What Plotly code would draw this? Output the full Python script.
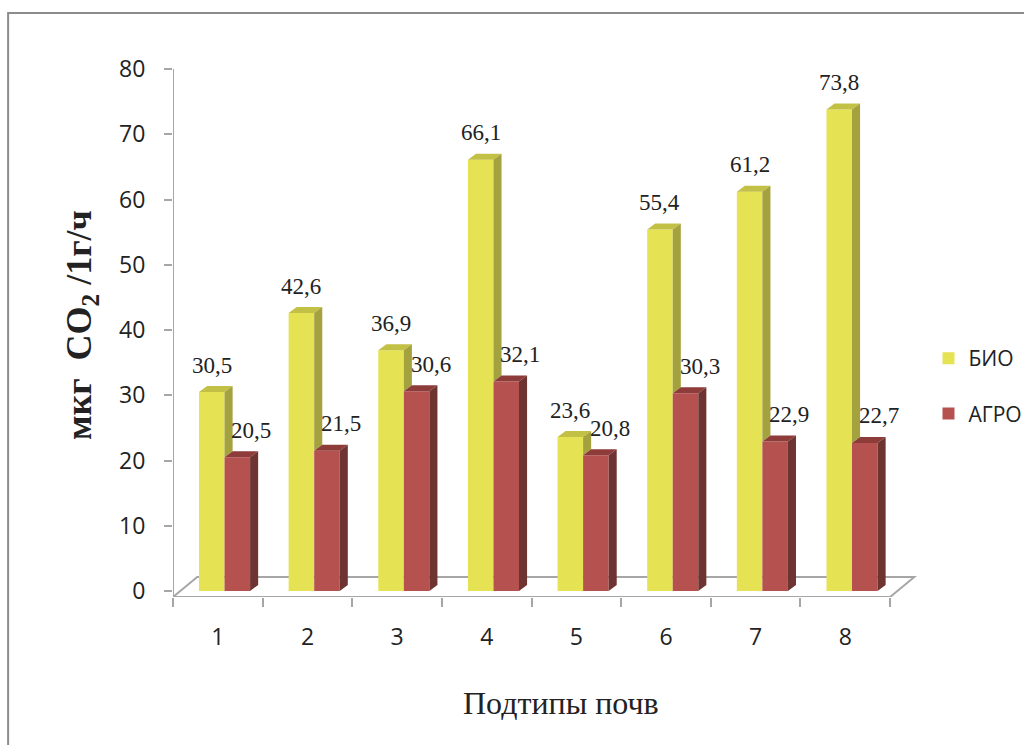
import plotly.graph_objects as go

# ---------------- data ----------------
categories = ["1", "2", "3", "4", "5", "6", "7", "8"]
bio = [30.5, 42.6, 36.9, 66.1, 23.6, 55.4, 61.2, 73.8]
agro = [20.5, 21.5, 30.6, 32.1, 20.8, 30.3, 22.9, 22.7]
series_names = ["БИО", "АГРО"]
y_ticks = [0, 10, 20, 30, 40, 50, 60, 70, 80]
x_title = "Подтипы почв"
y_title = "мкг&nbsp;&nbsp;CO<sub>2</sub> /1г/ч"

# ---------------- styling / geometry ----------------
W, H = 1024, 745
PL, PR, PT, PB = 173, 917.5, 56, 597          # plot area in pixels
X_RANGE = [0.5, 8.8]
Y_RANGE = [-0.92, 82]
BAR_W = 0.285
OFF_BIO, OFF_AGRO = -0.21, 0.075
DX, DY = 0.09, 0.92          # 3-D depth of bars (axis units)
FLOOR_DX, FLOOR_BACK = 0.27, 2.15

BIO_FRONT, BIO_SIDE, BIO_TOP = "#E5E253", "#A4A13F", "#C3C046"
AGRO_FRONT, AGRO_SIDE, AGRO_TOP = "#B55250", "#6E3432", "#8E3C3A"
AXIS_COL = "#A6A6A6"
TXT = "#222222"


def paper_x(px):
    return (px - PL) / (PR - PL)


def paper_y(py):
    return (PB - py) / (PB - PT)


xs = list(range(1, len(categories) + 1))


def top_faces(vals, off):
    X, Y = [], []
    for x, v in zip(xs, vals):
        x0 = x + off
        x1 = x0 + BAR_W
        X += [x0, x1, x1 + DX, x0 + DX, x0, None]
        Y += [v, v, v + DY, v + DY, v, None]
    return X, Y


def side_faces(vals, off, bases):
    X, Y = [], []
    for x, v, b in zip(xs, vals, bases):
        if b >= v:
            continue
        x1 = x + off + BAR_W
        X += [x1, x1 + DX, x1 + DX, x1, x1, None]
        Y += [b, b + DY, v + DY, v, b, None]
    return X, Y


fig = go.Figure()

fig.add_trace(go.Bar(x=xs, y=bio, width=BAR_W, offset=OFF_BIO, name=series_names[0],
                     marker=dict(color=BIO_FRONT, line=dict(width=0)),
                     legendgroup="bio"))
fig.add_trace(go.Bar(x=xs, y=agro, width=BAR_W, offset=OFF_AGRO, name=series_names[1],
                     marker=dict(color=AGRO_FRONT, line=dict(width=0)),
                     legendgroup="agro"))


def poly(X, Y, color):
    fig.add_trace(go.Scatter(x=X, y=Y, mode="lines", fill="toself", fillcolor=color,
                             line=dict(width=0, color=color), hoverinfo="skip",
                             showlegend=False))


poly(*top_faces(bio, OFF_BIO), BIO_TOP)
poly(*side_faces(bio, OFF_BIO, [min(a, b) for a, b in zip(agro, bio)]), BIO_SIDE)
poly(*top_faces(agro, OFF_AGRO), AGRO_TOP)
poly(*side_faces(agro, OFF_AGRO, [0] * len(agro)), AGRO_SIDE)

# value labels
annotations = []
for x, v in zip(xs, bio):
    annotations.append(dict(x=x + OFF_BIO + BAR_W / 2, y=v, yshift=27, xref="x", yref="y",
                            xanchor="center", yanchor="middle",
                            text=f"{v:.1f}".replace(".", ","), showarrow=False,
                            font=dict(family="Liberation Serif", size=23, color=TXT)))
for x, v in zip(xs, agro):
    annotations.append(dict(x=x + OFF_AGRO + BAR_W / 2, y=v, yshift=27, xshift=14,
                            xref="x", yref="y", xanchor="center", yanchor="middle",
                            text=f"{v:.1f}".replace(".", ","), showarrow=False,
                            font=dict(family="Liberation Serif", size=23, color=TXT)))

# axis titles
annotations.append(dict(x=paper_x(561), y=paper_y(703), xref="paper", yref="paper",
                        xanchor="center", yanchor="middle",
                        text=x_title, showarrow=False,
                        font=dict(family="Liberation Serif", size=32, color=TXT)))
annotations.append(dict(x=paper_x(81), y=paper_y(325), xref="paper", yref="paper",
                        xanchor="center", yanchor="middle",
                        text=f"<b>{y_title}</b>", showarrow=False, textangle=-90,
                        font=dict(family="Liberation Serif", size=36, color=TXT)))

shapes = [
    # outer frame
    dict(type="rect", xref="paper", yref="paper", x0=paper_x(8), x1=paper_x(W + 20),
         y0=paper_y(H + 20), y1=paper_y(13), line=dict(color="#8C8C8C", width=2),
         layer="below"),
    # y axis line
    dict(type="line", xref="x", yref="y", x0=X_RANGE[0], x1=X_RANGE[0],
         y0=Y_RANGE[0], y1=y_ticks[-1], line=dict(color=AXIS_COL, width=2), layer="below"),
    # floor
    dict(type="path", xref="x", yref="y",
         path=(f"M{0.5},{Y_RANGE[0]} L{len(xs) + 0.5},{Y_RANGE[0]} "
               f"L{len(xs) + 0.5 + FLOOR_DX},{FLOOR_BACK} L{0.5 + FLOOR_DX},{FLOOR_BACK} Z"),
         line=dict(color=AXIS_COL, width=2), layer="below"),
]

fig.update_layout(
    width=W, height=H,
    margin=dict(l=PL, r=W - PR, t=PT, b=H - PB, pad=0, autoexpand=False),
    paper_bgcolor="white", plot_bgcolor="white",
    barmode="overlay",
    showlegend=True,
    legend=dict(x=paper_x(929), y=paper_y(338), xanchor="left", yanchor="top",
                font=dict(family="Open Sans", size=21, color=TXT),
                tracegroupgap=25, bgcolor="rgba(0,0,0,0)", itemwidth=30),
    annotations=annotations,
    shapes=shapes,
)

fig.update_xaxes(range=X_RANGE, tickmode="array", tickvals=xs, ticktext=categories,
                 ticks="", showgrid=False, zeroline=False, showline=False,
                 tickfont=dict(family="Open Sans", size=23, color=TXT),
                 ticklabelstandoff=24,
                 minor=dict(tickmode="array", tickvals=[x - 0.5 for x in xs] + [xs[-1] + 0.5],
                            ticks="outside", ticklen=9, tickwidth=2, tickcolor=AXIS_COL,
                            showgrid=False))
fig.update_yaxes(range=Y_RANGE, tickmode="array", tickvals=y_ticks,
                 ticks="outside", ticklen=8, tickwidth=2, tickcolor=AXIS_COL,
                 showgrid=False, zeroline=False, showline=False,
                 tickfont=dict(family="Open Sans", size=23, color=TXT),
                 ticklabelstandoff=14)

fig.write_html("out.html")
